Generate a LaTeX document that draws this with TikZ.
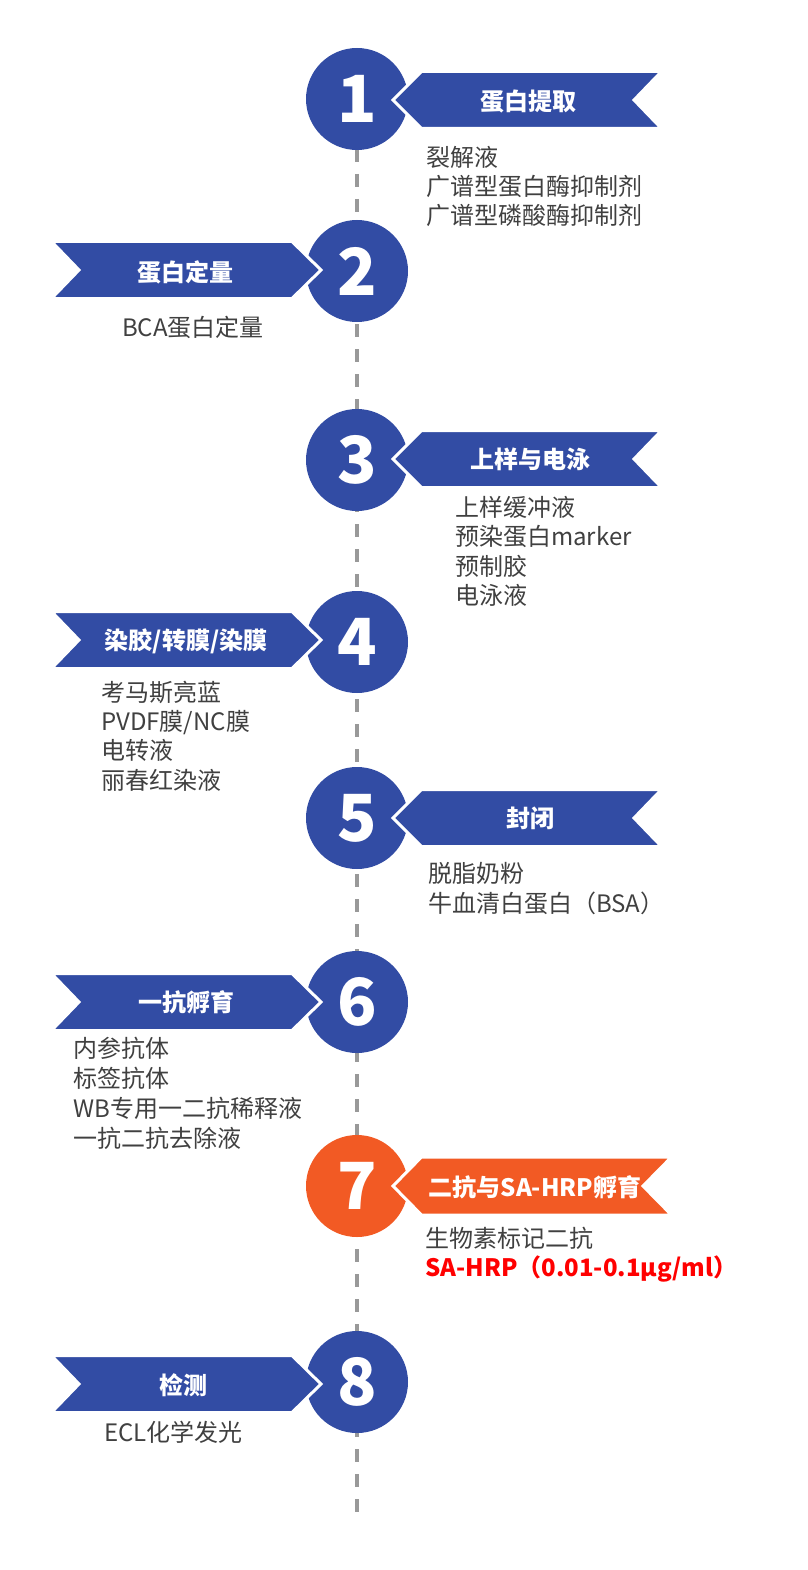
\documentclass[tikz,border=0pt]{standalone}
\usepackage{fontspec}
\setmainfont{Noto Sans CJK SC}
\definecolor{rbblue}{HTML}{324CA4}
\definecolor{rborange}{HTML}{F25A24}
\definecolor{txtgray}{HTML}{404040}
\definecolor{dashgray}{HTML}{999999}
\definecolor{hired}{HTML}{FF0000}
\tikzset{
  numcircle/.style={circle, fill=#1, minimum size=102pt, inner sep=0pt, text=white,
    font=\bfseries\fontsize{65}{65}\selectfont},
  ribbon/.style={fill=#1, draw=white, line width=3pt, line join=miter},
  ribtext/.style={text=white, inner sep=0pt, font=\bfseries\fontsize{24}{24}\selectfont},
  itemtext/.style={anchor=base west, inner sep=0pt, text=txtgray, font=\fontsize{24}{29}\selectfont},
  redtext/.style={anchor=base west, inner sep=0pt, text=hired, font=\bfseries\fontsize{24}{29}\selectfont},
  timeline/.style={draw=dashgray, line width=4pt, dash pattern=on 13pt off 12pt}
}
\begin{document}
\begin{tikzpicture}[x=1pt,y=-1pt]
\useasboundingbox (0,0) rectangle (807,1570);
% timeline
\coordinate (ltop) at (357,99);
\coordinate (lbot) at (357,1523);
\draw[timeline] (ltop) -- (lbot);
% circles
\node[numcircle=rbblue] (c1) at (357,99) {1};
\node[numcircle=rbblue] (c2) at (357,271) {2};
\node[numcircle=rbblue] (c3) at (357,460) {3};
\node[numcircle=rbblue] (c4) at (357,642) {4};
\node[numcircle=rbblue] (c5) at (357,818) {5};
\node[numcircle=rbblue] (c6) at (357,1002) {6};
\node[numcircle=rborange] (c7) at (357,1186) {7};
\node[numcircle=rbblue] (c8) at (357,1382) {8};
% ribbons pointing left (right side)
\foreach \c in {100,459,818}{
  \path[ribbon=rbblue] (393,\c) -- (421.5,\c-28.5) -- (661.5,\c-28.5) -- (634,\c) -- (661.5,\c+28.5) -- (421.5,\c+28.5) -- cycle;
}
\path[ribbon=rborange] (393,1186) -- (421.5,1157) -- (671.5,1157) -- (643,1186) -- (671.5,1215) -- (421.5,1215) -- cycle;
% ribbons pointing right (left side)
\foreach \c in {270,640,1002,1384}{
  \path[ribbon=rbblue] (51.5,\c-28.5) -- (292,\c-28.5) -- (321,\c) -- (292,\c+28.5) -- (51.5,\c+28.5) -- (79,\c) -- cycle;
}
% ribbon labels
\node[ribtext] (r1) at (528,101) {蛋白提取};
\node[ribtext] (r2) at (185,272) {蛋白定量};
\node[ribtext] (r3) at (530,459) {上样与电泳};
\node[ribtext] (r4) at (186,641) {染胶/转膜/染膜};
\node[ribtext] (r5) at (530,818) {封闭};
\node[ribtext] (r6) at (186,1002) {一抗孵育};
\node[ribtext] (r7) at (535,1187) {二抗与SA-HRP孵育};
\node[ribtext] (r8) at (183,1385) {检测};
% item lists
\node[itemtext] (i1a) at (426,167) {裂解液};
\node[itemtext] (i1b) at (426,196) {广谱型蛋白酶抑制剂};
\node[itemtext] (i1c) at (426,225) {广谱型磷酸酶抑制剂};
\node[itemtext] (i2a) at (122,336) {BCA蛋白定量};
\node[itemtext] (i3a) at (455,516) {上样缓冲液};
\node[itemtext] (i3b) at (455,545) {预染蛋白marker};
\node[itemtext] (i3c) at (455,575) {预制胶};
\node[itemtext] (i3d) at (455,604) {电泳液};
\node[itemtext] (i4a) at (101,701) {考马斯亮蓝};
\node[itemtext] (i4b) at (101,730) {PVDF膜/NC膜};
\node[itemtext] (i4c) at (101,759) {电转液};
\node[itemtext] (i4d) at (101,789) {丽春红染液};
\node[itemtext] (i5a) at (428,882) {脱脂奶粉};
\node[itemtext] (i5b) at (428,912) {牛血清白蛋白（BSA）};
\node[itemtext] (i6a) at (73,1057) {内参抗体};
\node[itemtext] (i6b) at (73,1087) {标签抗体};
\node[itemtext] (i6c) at (73,1117) {WB专用一二抗稀释液};
\node[itemtext] (i6d) at (73,1147) {一抗二抗去除液};
\node[itemtext] (i7a) at (425,1247) {生物素标记二抗};
\node[redtext] (i7b) at (425,1276) {SA-HRP（0.01-0.1μg/ml）};
\node[itemtext] (i8a) at (104,1441) {ECL化学发光};
\end{tikzpicture}
\end{document}
